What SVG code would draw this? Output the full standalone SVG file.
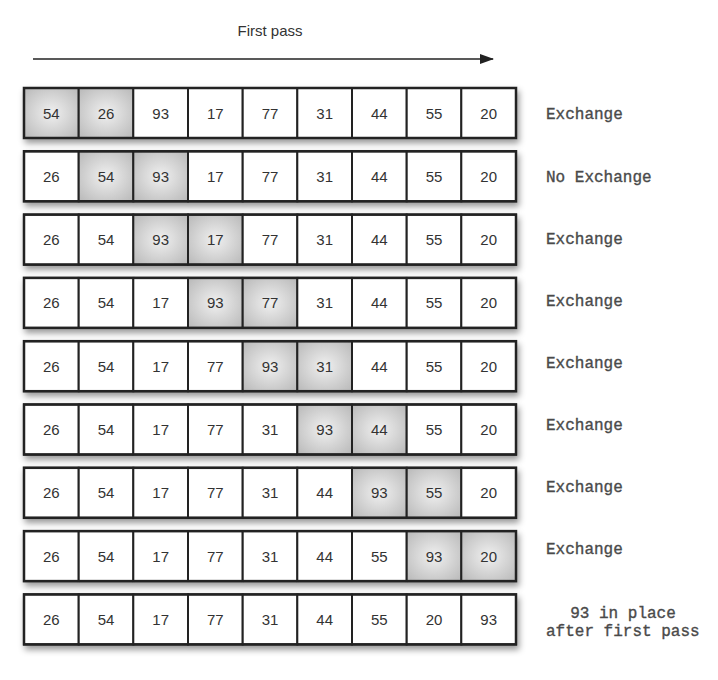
<svg xmlns="http://www.w3.org/2000/svg" width="718" height="680" viewBox="0 0 718 680">
<style>
.cell{fill:#fff;stroke:#222;stroke-width:2}
.hl{fill:url(#hg);stroke:#222;stroke-width:2}
.num{font-family:"Liberation Sans",Arial,sans-serif;font-size:15px;fill:#333;text-anchor:middle}
.lbl{font-family:"Liberation Mono","Courier New",monospace;font-size:16px;fill:#4a4a4a;stroke:#4a4a4a;stroke-width:0.35}
.title{font-family:"Liberation Sans",Arial,sans-serif;font-size:15px;fill:#333;text-anchor:middle}
</style>
<defs>
<radialGradient id="hg" cx="50%" cy="50%" r="65%">
<stop offset="0" stop-color="#f0f0f0"/>
<stop offset="1" stop-color="#bcbcbc"/>
</radialGradient>
<filter id="sh" x="-5%" y="-20%" width="110%" height="160%">
<feDropShadow dx="2" dy="4" stdDeviation="3" flood-color="#000" flood-opacity="0.4"/>
</filter>
<marker id="ah" markerWidth="14" markerHeight="10" refX="13" refY="5" orient="auto" markerUnits="userSpaceOnUse">
<path d="M0,0 L14,5 L0,10 z" fill="#222"/>
</marker>
</defs>
<rect width="718" height="680" fill="#fff"/>
<text class="title" x="270" y="36">First pass</text>
<g id="connectors">
<line x1="33" y1="59" x2="493" y2="59" stroke="#222" stroke-width="1.6" marker-end="url(#ah)"/>
</g>
<g id="row1" filter="url(#sh)" transform="translate(24,88)">
<rect class="hl" x="0" y="0" width="54.7" height="50"/><rect class="hl" x="54.7" y="0" width="54.7" height="50"/><rect class="cell" x="109.3" y="0" width="54.7" height="50"/><rect class="cell" x="164" y="0" width="54.7" height="50"/><rect class="cell" x="218.7" y="0" width="54.7" height="50"/><rect class="cell" x="273.3" y="0" width="54.7" height="50"/><rect class="cell" x="328" y="0" width="54.7" height="50"/><rect class="cell" x="382.7" y="0" width="54.7" height="50"/><rect class="cell" x="437.3" y="0" width="54.7" height="50"/>
<rect x="0" y="0" width="492" height="50" fill="none" stroke="#222" stroke-width="2.5"/>
</g>
<g id="row2" filter="url(#sh)" transform="translate(24,151.3)">
<rect class="cell" x="0" y="0" width="54.7" height="50"/><rect class="hl" x="54.7" y="0" width="54.7" height="50"/><rect class="hl" x="109.3" y="0" width="54.7" height="50"/><rect class="cell" x="164" y="0" width="54.7" height="50"/><rect class="cell" x="218.7" y="0" width="54.7" height="50"/><rect class="cell" x="273.3" y="0" width="54.7" height="50"/><rect class="cell" x="328" y="0" width="54.7" height="50"/><rect class="cell" x="382.7" y="0" width="54.7" height="50"/><rect class="cell" x="437.3" y="0" width="54.7" height="50"/>
<rect x="0" y="0" width="492" height="50" fill="none" stroke="#222" stroke-width="2.5"/>
</g>
<g id="row3" filter="url(#sh)" transform="translate(24,214.6)">
<rect class="cell" x="0" y="0" width="54.7" height="50"/><rect class="cell" x="54.7" y="0" width="54.7" height="50"/><rect class="hl" x="109.3" y="0" width="54.7" height="50"/><rect class="hl" x="164" y="0" width="54.7" height="50"/><rect class="cell" x="218.7" y="0" width="54.7" height="50"/><rect class="cell" x="273.3" y="0" width="54.7" height="50"/><rect class="cell" x="328" y="0" width="54.7" height="50"/><rect class="cell" x="382.7" y="0" width="54.7" height="50"/><rect class="cell" x="437.3" y="0" width="54.7" height="50"/>
<rect x="0" y="0" width="492" height="50" fill="none" stroke="#222" stroke-width="2.5"/>
</g>
<g id="row4" filter="url(#sh)" transform="translate(24,277.9)">
<rect class="cell" x="0" y="0" width="54.7" height="50"/><rect class="cell" x="54.7" y="0" width="54.7" height="50"/><rect class="cell" x="109.3" y="0" width="54.7" height="50"/><rect class="hl" x="164" y="0" width="54.7" height="50"/><rect class="hl" x="218.7" y="0" width="54.7" height="50"/><rect class="cell" x="273.3" y="0" width="54.7" height="50"/><rect class="cell" x="328" y="0" width="54.7" height="50"/><rect class="cell" x="382.7" y="0" width="54.7" height="50"/><rect class="cell" x="437.3" y="0" width="54.7" height="50"/>
<rect x="0" y="0" width="492" height="50" fill="none" stroke="#222" stroke-width="2.5"/>
</g>
<g id="row5" filter="url(#sh)" transform="translate(24,341.2)">
<rect class="cell" x="0" y="0" width="54.7" height="50"/><rect class="cell" x="54.7" y="0" width="54.7" height="50"/><rect class="cell" x="109.3" y="0" width="54.7" height="50"/><rect class="cell" x="164" y="0" width="54.7" height="50"/><rect class="hl" x="218.7" y="0" width="54.7" height="50"/><rect class="hl" x="273.3" y="0" width="54.7" height="50"/><rect class="cell" x="328" y="0" width="54.7" height="50"/><rect class="cell" x="382.7" y="0" width="54.7" height="50"/><rect class="cell" x="437.3" y="0" width="54.7" height="50"/>
<rect x="0" y="0" width="492" height="50" fill="none" stroke="#222" stroke-width="2.5"/>
</g>
<g id="row6" filter="url(#sh)" transform="translate(24,404.5)">
<rect class="cell" x="0" y="0" width="54.7" height="50"/><rect class="cell" x="54.7" y="0" width="54.7" height="50"/><rect class="cell" x="109.3" y="0" width="54.7" height="50"/><rect class="cell" x="164" y="0" width="54.7" height="50"/><rect class="cell" x="218.7" y="0" width="54.7" height="50"/><rect class="hl" x="273.3" y="0" width="54.7" height="50"/><rect class="hl" x="328" y="0" width="54.7" height="50"/><rect class="cell" x="382.7" y="0" width="54.7" height="50"/><rect class="cell" x="437.3" y="0" width="54.7" height="50"/>
<rect x="0" y="0" width="492" height="50" fill="none" stroke="#222" stroke-width="2.5"/>
</g>
<g id="row7" filter="url(#sh)" transform="translate(24,467.8)">
<rect class="cell" x="0" y="0" width="54.7" height="50"/><rect class="cell" x="54.7" y="0" width="54.7" height="50"/><rect class="cell" x="109.3" y="0" width="54.7" height="50"/><rect class="cell" x="164" y="0" width="54.7" height="50"/><rect class="cell" x="218.7" y="0" width="54.7" height="50"/><rect class="cell" x="273.3" y="0" width="54.7" height="50"/><rect class="hl" x="328" y="0" width="54.7" height="50"/><rect class="hl" x="382.7" y="0" width="54.7" height="50"/><rect class="cell" x="437.3" y="0" width="54.7" height="50"/>
<rect x="0" y="0" width="492" height="50" fill="none" stroke="#222" stroke-width="2.5"/>
</g>
<g id="row8" filter="url(#sh)" transform="translate(24,531.1)">
<rect class="cell" x="0" y="0" width="54.7" height="50"/><rect class="cell" x="54.7" y="0" width="54.7" height="50"/><rect class="cell" x="109.3" y="0" width="54.7" height="50"/><rect class="cell" x="164" y="0" width="54.7" height="50"/><rect class="cell" x="218.7" y="0" width="54.7" height="50"/><rect class="cell" x="273.3" y="0" width="54.7" height="50"/><rect class="cell" x="328" y="0" width="54.7" height="50"/><rect class="hl" x="382.7" y="0" width="54.7" height="50"/><rect class="hl" x="437.3" y="0" width="54.7" height="50"/>
<rect x="0" y="0" width="492" height="50" fill="none" stroke="#222" stroke-width="2.5"/>
</g>
<g id="row9" filter="url(#sh)" transform="translate(24,594.4)">
<rect class="cell" x="0" y="0" width="54.7" height="50"/><rect class="cell" x="54.7" y="0" width="54.7" height="50"/><rect class="cell" x="109.3" y="0" width="54.7" height="50"/><rect class="cell" x="164" y="0" width="54.7" height="50"/><rect class="cell" x="218.7" y="0" width="54.7" height="50"/><rect class="cell" x="273.3" y="0" width="54.7" height="50"/><rect class="cell" x="328" y="0" width="54.7" height="50"/><rect class="cell" x="382.7" y="0" width="54.7" height="50"/><rect class="cell" x="437.3" y="0" width="54.7" height="50"/>
<rect x="0" y="0" width="492" height="50" fill="none" stroke="#222" stroke-width="2.5"/>
</g>
<g id="numbers">
<g transform="translate(24,118.5)"><text class="num" x="27.3">54</text><text class="num" x="82">26</text><text class="num" x="136.7">93</text><text class="num" x="191.3">17</text><text class="num" x="246">77</text><text class="num" x="300.7">31</text><text class="num" x="355.3">44</text><text class="num" x="410">55</text><text class="num" x="464.7">20</text></g>
<g transform="translate(24,181.8)"><text class="num" x="27.3">26</text><text class="num" x="82">54</text><text class="num" x="136.7">93</text><text class="num" x="191.3">17</text><text class="num" x="246">77</text><text class="num" x="300.7">31</text><text class="num" x="355.3">44</text><text class="num" x="410">55</text><text class="num" x="464.7">20</text></g>
<g transform="translate(24,245.1)"><text class="num" x="27.3">26</text><text class="num" x="82">54</text><text class="num" x="136.7">93</text><text class="num" x="191.3">17</text><text class="num" x="246">77</text><text class="num" x="300.7">31</text><text class="num" x="355.3">44</text><text class="num" x="410">55</text><text class="num" x="464.7">20</text></g>
<g transform="translate(24,308.4)"><text class="num" x="27.3">26</text><text class="num" x="82">54</text><text class="num" x="136.7">17</text><text class="num" x="191.3">93</text><text class="num" x="246">77</text><text class="num" x="300.7">31</text><text class="num" x="355.3">44</text><text class="num" x="410">55</text><text class="num" x="464.7">20</text></g>
<g transform="translate(24,371.7)"><text class="num" x="27.3">26</text><text class="num" x="82">54</text><text class="num" x="136.7">17</text><text class="num" x="191.3">77</text><text class="num" x="246">93</text><text class="num" x="300.7">31</text><text class="num" x="355.3">44</text><text class="num" x="410">55</text><text class="num" x="464.7">20</text></g>
<g transform="translate(24,435)"><text class="num" x="27.3">26</text><text class="num" x="82">54</text><text class="num" x="136.7">17</text><text class="num" x="191.3">77</text><text class="num" x="246">31</text><text class="num" x="300.7">93</text><text class="num" x="355.3">44</text><text class="num" x="410">55</text><text class="num" x="464.7">20</text></g>
<g transform="translate(24,498.3)"><text class="num" x="27.3">26</text><text class="num" x="82">54</text><text class="num" x="136.7">17</text><text class="num" x="191.3">77</text><text class="num" x="246">31</text><text class="num" x="300.7">44</text><text class="num" x="355.3">93</text><text class="num" x="410">55</text><text class="num" x="464.7">20</text></g>
<g transform="translate(24,561.6)"><text class="num" x="27.3">26</text><text class="num" x="82">54</text><text class="num" x="136.7">17</text><text class="num" x="191.3">77</text><text class="num" x="246">31</text><text class="num" x="300.7">44</text><text class="num" x="355.3">55</text><text class="num" x="410">93</text><text class="num" x="464.7">20</text></g>
<g transform="translate(24,624.9)"><text class="num" x="27.3">26</text><text class="num" x="82">54</text><text class="num" x="136.7">17</text><text class="num" x="191.3">77</text><text class="num" x="246">31</text><text class="num" x="300.7">44</text><text class="num" x="355.3">55</text><text class="num" x="410">20</text><text class="num" x="464.7">93</text></g>
</g>
<g id="labels">
<text class="lbl" x="546" y="119">Exchange</text>
<text class="lbl" x="546" y="182">No Exchange</text>
<text class="lbl" x="546" y="244">Exchange</text>
<text class="lbl" x="546" y="306">Exchange</text>
<text class="lbl" x="546" y="368">Exchange</text>
<text class="lbl" x="546" y="430">Exchange</text>
<text class="lbl" x="546" y="492">Exchange</text>
<text class="lbl" x="546" y="554">Exchange</text>
<text class="lbl" x="623" y="618" text-anchor="middle">93 in place</text>
<text class="lbl" x="546" y="636">after first pass</text>
</g>
</svg>
